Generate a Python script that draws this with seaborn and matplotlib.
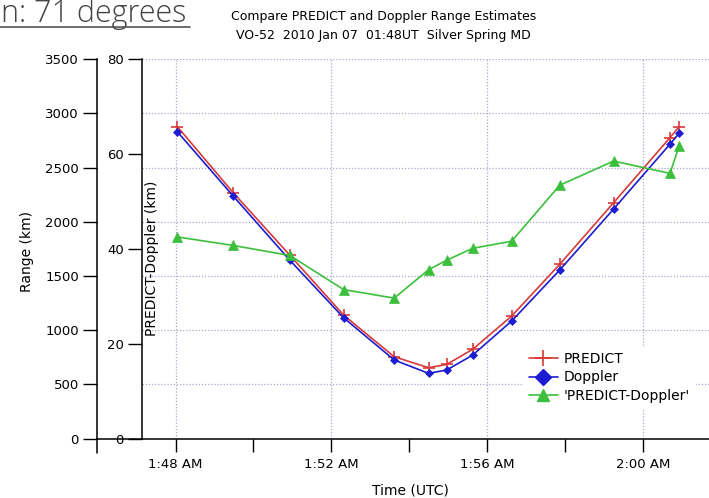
import matplotlib
matplotlib.use("Agg")
import matplotlib.pyplot as plt
import seaborn as sns
import pandas as pd
from matplotlib.lines import Line2D
from matplotlib.ticker import FixedLocator

# ---- data ----
times = ["1:48:03", "1:49:29", "1:50:56", "1:52:19", "1:53:37", "1:54:30", "1:54:58",
         "1:55:38", "1:56:38", "1:57:52", "1:59:15", "2:00:42", "2:00:56"]
predict_km = [2876, 2267, 1692, 1139, 754, 653, 684, 823, 1130, 1607, 2175, 2776, 2876]
doppler_km = [2829, 2236, 1646, 1114, 724, 601, 632, 770, 1084, 1554, 2117, 2716, 2815]
diff_km = [42.5, 40.7, 38.6, 31.4, 29.6, 35.6, 37.6, 40.1, 41.6, 53.4, 58.5, 55.9, 61.7]

xtick_minutes = [0, 4, 8, 12]
xtick_labels = ["1:48 AM", "1:52 AM", "1:56 AM", "2:00 AM"]
range_ticks = [0, 500, 1000, 1500, 2000, 2500, 3000, 3500]
diff_ticks = [0, 20, 40, 60, 80]
legend_labels = ["PREDICT", "Doppler", "'PREDICT-Doppler'"]


def to_minutes(s):
    h, m, sec = (int(v) for v in s.split(":"))
    return h * 60 + m - 108 + sec / 60.0


df = pd.DataFrame({
    "t": [to_minutes(s) for s in times],
    "PREDICT": predict_km,
    "Doppler": doppler_km,
    "diff": diff_km,
})

sns.set_theme(style="white")
plt.rcParams["font.family"] = ["DejaVu Sans"]
plt.rcParams["text.color"] = "black"
plt.rcParams["axes.labelcolor"] = "black"
plt.rcParams["xtick.color"] = "black"
plt.rcParams["ytick.color"] = "black"

RED = "#d83a3a"
BLUE = "#1c1cd0"
GREEN = "#3cbf3c"
GRID = "#a9a9cc"

W, H = 709, 498
fig = plt.figure(figsize=(W / 100, H / 100), dpi=100)
L, R, T, B = 142, 709, 59.1, 438.5
ax1 = fig.add_axes([L / W, 1 - B / H, (R - L) / W, (B - T) / H])
ax2 = ax1.twinx()

sns.lineplot(data=df, x="t", y="PREDICT", ax=ax1, color=RED, linewidth=1.2,
             marker="+", markersize=9, markeredgewidth=1.2, markeredgecolor=RED,
             legend=False)
sns.lineplot(data=df, x="t", y="Doppler", ax=ax1, color=BLUE, linewidth=1.2,
             marker="D", markersize=4.5, markeredgewidth=0.5, markeredgecolor=BLUE,
             legend=False)
sns.lineplot(data=df, x="t", y="diff", ax=ax2, color=GREEN, linewidth=1.2,
             marker="^", markersize=6.5, markeredgewidth=0.5, markeredgecolor=GREEN,
             legend=False)

# x axis
ax1.set_xlim((L - 175.5) / 38.94, (R - 175.5) / 38.94)
ax1.set_xticks(xtick_minutes, xtick_labels)
ax1.xaxis.set_minor_locator(FixedLocator([2, 6, 10]))
ax1.tick_params(axis="x", which="both", direction="out", length=9, width=1,
                bottom=True, pad=5, labelsize=9.5)
ax1.set_xlabel("Time (UTC)", fontsize=10)
ax1.xaxis.set_label_coords((410 - L) / (R - L), (B - 483) / (B - T))

# left (range) axis
ax1.set_ylim(0, 3500)
ax1.set_yticks(range_ticks)
ax1.tick_params(axis="y", direction="out", length=10, width=1, left=True,
                pad=3, labelsize=9.5)
ax1.set_ylabel("Range (km)", fontsize=10)
ax1.yaxis.set_label_coords((34 - L) / (R - L), (B - 252) / (B - T))

# inner (difference) axis
ax2.set_ylim(0, 80)
ax2.set_yticks(diff_ticks)
ax2.yaxis.tick_left()
ax2.yaxis.set_label_position("left")
ax2.tick_params(axis="y", direction="out", length=10, width=1, left=True, right=False,
                labelleft=True, labelright=False, pad=3, labelsize=9.5)
ax2.set_ylabel("PREDICT-Doppler (km)", fontsize=10)
ax2.yaxis.set_label_coords((159 - L) / (R - L), (B - 258) / (B - T))
ax2.set_xlabel("")

# spines
for s in ["top", "right"]:
    ax1.spines[s].set_visible(False)
for s in ["top", "right", "bottom"]:
    ax2.spines[s].set_visible(False)
ax1.spines["left"].set_position(("outward", 45 * 0.72))
ax1.spines["left"].set_color("black")
ax1.spines["bottom"].set_color("black")
ax2.spines["left"].set_color("black")
for sp in [ax1.spines["left"], ax1.spines["bottom"], ax2.spines["left"]]:
    sp.set_linewidth(1.1)

# grid
ax1.set_axisbelow(True)
ax1.grid(True, which="major", color=GRID, linestyle=(0, (1, 1.5)), linewidth=0.9)

# bottom axis line extended to outer axis, outer axis stub below
fig.add_artist(Line2D([97 / W, L / W], [1 - B / H, 1 - B / H], color="black", lw=1.1))
fig.add_artist(Line2D([97 / W, 97 / W], [1 - B / H, 1 - 453 / H], color="black", lw=1.1))

# legend
handles = [
    Line2D([], [], color=RED, lw=1.2, marker="+", markersize=12, markeredgewidth=1.2),
    Line2D([], [], color=BLUE, lw=1.2, marker="D", markersize=8.5, markeredgecolor=BLUE),
    Line2D([], [], color=GREEN, lw=1.2, marker="^", markersize=9, markeredgecolor=GREEN),
]
leg = ax2.legend(handles, legend_labels, loc="upper left",
                 bbox_to_anchor=(523 / W, 1 - 346 / H), bbox_transform=fig.transFigure,
                 borderaxespad=0, frameon=True, fontsize=10, handlelength=2.1,
                 handletextpad=0.45, labelspacing=0.35, borderpad=0.4)
leg.get_frame().set_facecolor("white")
leg.get_frame().set_edgecolor("none")
leg.get_frame().set_alpha(1)

# titles
fig.text(384 / W, 1 - 16.5 / H, "Compare PREDICT and Doppler Range Estimates",
         ha="center", va="center", fontsize=9.0)
fig.text(383 / W, 1 - 36 / H, "VO-52  2010 Jan 07  01:48UT  Silver Spring MD",
         ha="center", va="center", fontsize=9.0)

# fragment of surrounding page text
fig.text(0.001, 1 - 22.5 / H, "n: 71 degrees", ha="left", va="baseline", fontsize=22,
         color="#444444", family=["Open Sans", "DejaVu Sans"], fontweight="light")
fig.add_artist(Line2D([0, 190 / W], [1 - 27.5 / H, 1 - 27.5 / H], color="#555555", lw=1.2))

fig.savefig("out.png", dpi=100)
